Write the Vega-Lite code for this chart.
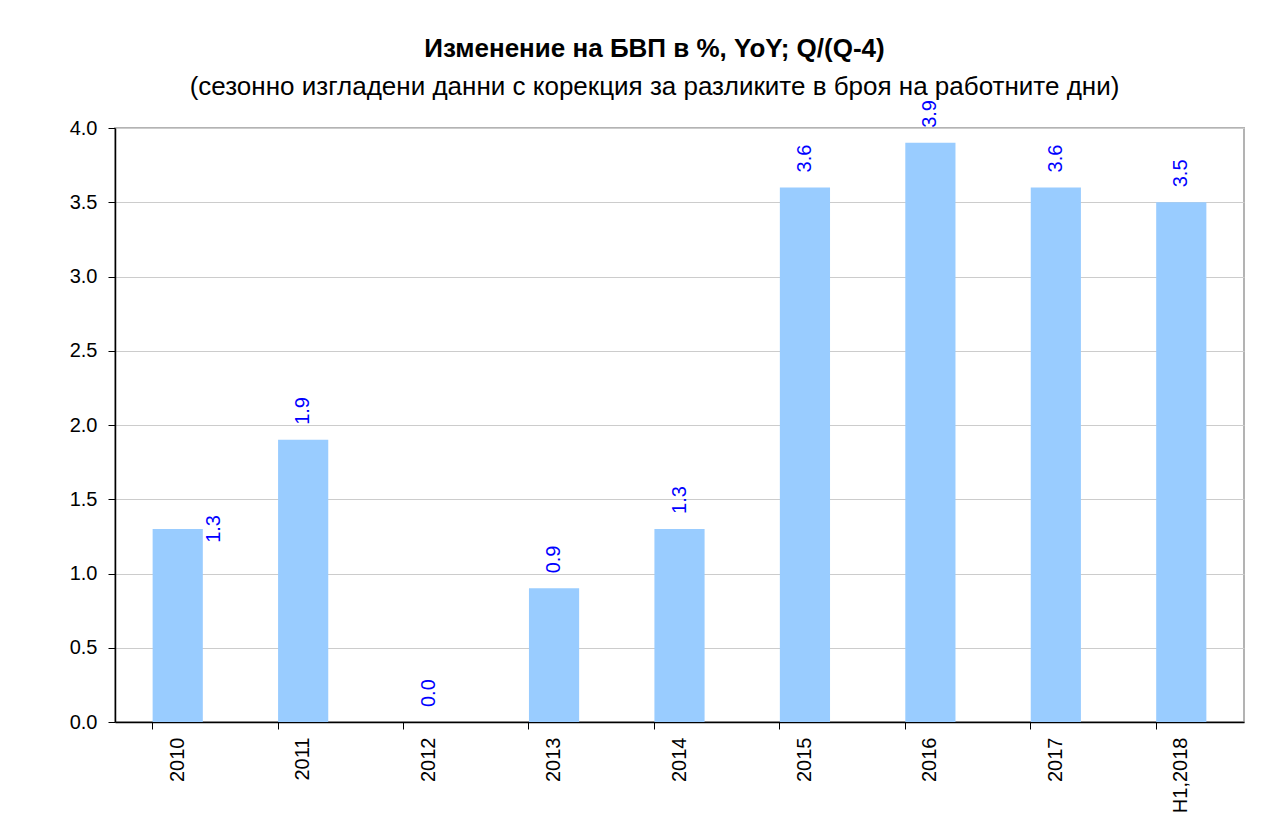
{
  "$schema": "https://vega.github.io/schema/vega-lite/v6.json",
  "autosize": {"type": "none"},
  "width": 1129,
  "height": 594,
  "padding": {"left": 115, "top": 128, "right": 24, "bottom": 112},
  "background": "white",
  "title": {
    "text": "Изменение на БВП в %, YoY; Q/(Q-4)",
    "subtitle": "(сезонно изгладени данни с корекция за разликите в броя на работните дни)",
    "font": "Liberation Sans",
    "fontSize": 26,
    "fontWeight": "bold",
    "color": "black",
    "subtitleFont": "Liberation Sans",
    "subtitleFontSize": 26,
    "subtitleColor": "black",
    "subtitlePadding": 12,
    "anchor": "middle",
    "dx": -25,
    "offset": 0
  },
  "data": {
    "values": [
      {"year": "2010", "value": 1.3},
      {"year": "2011", "value": 1.9},
      {"year": "2012", "value": 0.0},
      {"year": "2013", "value": 0.9},
      {"year": "2014", "value": 1.3},
      {"year": "2015", "value": 3.6},
      {"year": "2016", "value": 3.9},
      {"year": "2017", "value": 3.6},
      {"year": "H1,2018", "value": 3.5}
    ]
  },
  "encoding": {
    "x": {
      "field": "year",
      "type": "nominal",
      "sort": null,
      "scale": {"paddingInner": 0.6, "paddingOuter": 0.3},
      "axis": {
        "title": null,
        "labelAngle": 270,
        "labelAlign": "right",
        "labelBaseline": "middle",
        "labelFont": "Liberation Sans",
        "labelFontSize": 20,
        "labelColor": "black",
        "labelPadding": 8,
        "bandPosition": 0,
        "tickColor": "black",
        "tickSize": 7,
        "domainColor": "black",
        "domainWidth": 1.5,
        "grid": false
      }
    },
    "y": {
      "field": "value",
      "type": "quantitative",
      "scale": {"domain": [0, 4], "nice": false},
      "axis": {
        "title": null,
        "values": [0, 0.5, 1, 1.5, 2, 2.5, 3, 3.5, 4],
        "format": ".1f",
        "labelFont": "Liberation Sans",
        "labelFontSize": 20,
        "labelColor": "black",
        "labelPadding": 11,
        "tickColor": "black",
        "tickSize": 7,
        "domainColor": "black",
        "domainWidth": 1.5,
        "grid": true,
        "gridColor": "#cccccc",
        "gridWidth": 1
      }
    }
  },
  "layer": [
    {"mark": {"type": "bar", "color": "#99ccff"}},
    {
      "transform": [{"filter": "datum.year != '2010'"}],
      "mark": {
        "type": "text",
        "angle": 270,
        "align": "left",
        "baseline": "middle",
        "dx": 15,
        "font": "Liberation Sans",
        "fontSize": 20,
        "color": "#0000ff"
      },
      "encoding": {"text": {"field": "value", "type": "quantitative", "format": ".1f"}}
    },
    {
      "transform": [{"filter": "datum.year == '2010'"}],
      "mark": {
        "type": "text",
        "angle": 270,
        "align": "center",
        "baseline": "middle",
        "dy": 36,
        "font": "Liberation Sans",
        "fontSize": 20,
        "color": "#0000ff"
      },
      "encoding": {"text": {"field": "value", "type": "quantitative", "format": ".1f"}}
    }
  ],
  "config": {
    "view": {"stroke": "#b3b3b3", "strokeWidth": 2}
  }
}
